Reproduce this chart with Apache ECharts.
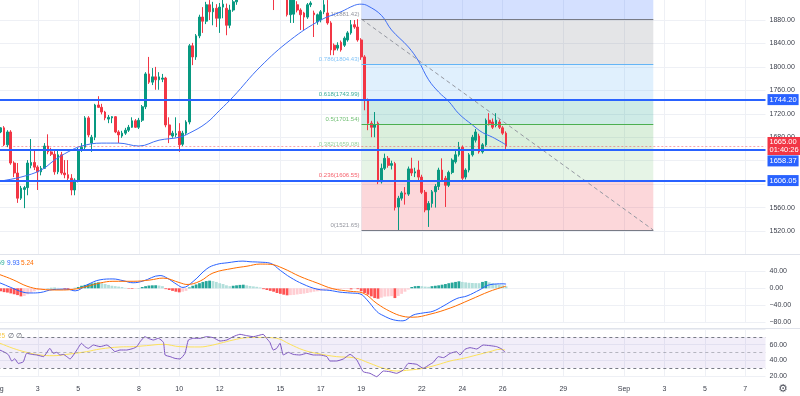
<!DOCTYPE html>
<html><head><meta charset="utf-8">
<script src="https://cdn.jsdelivr.net/npm/echarts@6/dist/echarts.min.js"></script>
<style>html,body{margin:0;padding:0;background:#fff}#c{width:800px;height:396px}</style>
</head><body><div id="c"></div>
<script>
// ---- x axis: 4h slots starting Aug 1 00:00 ----
const slotCount = 229;
const tickSlots = [0,12,24,42,54,66,84,96,108,126,138,150,168,186,198,210,222];
const tickLabels = ['Aug','3','5','8','10','12','15','17','19','22','24','26','29','Sep','3','5','7'];

// ---- candles [open, close, low, high] ----
const candles = [
[1693,1689,1686,1697],[1689,1696,1687,1697],[1696,1667,1665,1699],[1667,1689,1663,1692],[1689,1636,1633,1692],
[1636,1619,1612,1639],[1619,1576,1568,1636],[1576,1593,1573,1597],[1591,1594,1559,1597],[1594,1636,1581,1641],
[1632,1637,1627,1677],[1637,1629,1624,1658],[1629,1621,1590,1632],[1621,1627,1615,1631],[1627,1665,1626,1670],
[1665,1655,1651,1685],[1655,1651,1648,1662],[1651,1621,1616,1658],[1621,1650,1617,1658],[1650,1619,1616,1655],
[1619,1616,1610,1641],[1616,1610,1604,1641],[1610,1590,1581,1617],[1590,1607,1581,1610],[1607,1658,1603,1662],
[1658,1663,1655,1670],[1663,1713,1658,1716],[1713,1684,1680,1716],[1670,1680,1655,1684],[1680,1735,1675,1737],
[1735,1731,1730,1750],[1731,1723,1719,1737],[1723,1713,1709,1725],[1711,1714,1704,1718],[1713,1715,1704,1716],
[1715,1689,1687,1716],[1689,1684,1670,1692],[1682,1687,1679,1691],[1687,1692,1684,1696],[1692,1697,1689,1701],
[1697,1708,1696,1714],[1708,1697,1696,1711],[1697,1709,1694,1713],[1709,1732,1706,1735],[1732,1788,1728,1791],
[1788,1774,1771,1817],[1774,1783,1769,1798],[1783,1778,1761,1800],[1778,1783,1761,1791],[1779,1781,1774,1788],
[1781,1701,1697,1783],[1701,1684,1670,1714],[1682,1687,1679,1691],[1684,1686,1680,1714],[1690,1667,1655,1704],
[1668,1687,1665,1691],[1687,1706,1684,1709],[1706,1836,1702,1839],[1836,1817,1803,1841],[1817,1853,1812,1856],
[1853,1885,1849,1889],[1885,1878,1858,1902],[1878,1906,1873,1911],[1906,1894,1880,1914],[1894,1900,1871,1911],
[1900,1883,1868,1907],[1883,1902,1858,1909],[1902,1907,1883,1918],[1900,1871,1854,1908],[1871,1897,1866,1906],
[1897,1911,1894,1922],[1911,1925,1906,1930],[1925,1932,1918,1938],[1932,1928,1922,1940],[1928,1938,1924,1945],
[1938,1935,1928,1944],[1935,1942,1930,1950],[1942,1936,1930,1948],[1936,1930,1922,1940],[1930,1934,1924,1939],
[1934,1926,1920,1936],[1926,1929,1918,1933],[1929,1918,1897,1931],[1918,1922,1915,1926],[1922,1925,1916,1930],
[1925,1920,1915,1929],[1920,1889,1886,1924],[1889,1914,1875,1918],[1890,1916,1875,1920],[1906,1897,1893,1912],
[1897,1889,1863,1900],[1892,1885,1863,1894],[1885,1906,1882,1909],[1906,1909,1902,1912],[1892,1889,1851,1896],
[1877,1889,1872,1891],[1880,1894,1876,1897],[1894,1906,1890,1914],[1892,1875,1872,1914],[1875,1829,1820,1878],
[1837,1829,1820,1840],[1832,1837,1828,1842],[1842,1829,1826,1845],[1837,1849,1834,1852],[1846,1858,1843,1861],
[1858,1872,1855,1880],[1872,1868,1865,1880],[1868,1846,1843,1881.42],[1846,1817,1812,1849],[1817,1744,1726,1820],
[1744,1704,1692,1746],[1704,1697,1680,1708],[1697,1701,1680,1723],[1704,1604,1600,1707],[1604,1627,1601,1635],
[1627,1644,1624,1652],[1644,1632,1628,1648],[1632,1635,1625,1640],[1635,1560,1555,1638],[1561,1576,1521.65,1580],
[1576,1585,1572,1588],[1585,1583,1565,1595],[1583,1626,1580,1630],[1626,1619,1614,1645],[1619,1621,1612,1628],
[1624,1612,1606,1640],[1612,1586,1583,1616],[1586,1556,1552,1590],[1556,1567,1527,1571],[1567,1587,1560,1590],
[1587,1596,1560,1600],[1596,1624,1590,1628],[1624,1607,1604,1644],[1610,1598,1561,1614],[1598,1620,1595,1623],
[1620,1641,1617,1644],[1638,1650,1635,1660],[1650,1663,1647,1672],[1663,1610,1606,1666],[1612,1624,1608,1627],
[1624,1650,1620,1653],[1650,1680,1647,1684],[1675,1689,1671,1694],[1682,1655,1652,1686],[1655,1667,1652,1670],
[1667,1709,1664,1712],[1709,1704,1700,1721],[1706,1697,1694,1712],[1700,1709,1697,1721],[1706,1697,1694,1710],
[1696,1687,1684,1699],[1687,1665,1660,1690]
];

// ---- moving average on price [slot, value] ----
const maLine = [[0,1603],[1,1605],[7,1612],[13,1624],[17,1641],[21,1655],[25,1665],[31,1670],[36,1670],[42,1665],[48,1675],
[54,1680],[57,1687],[62,1704],[66,1726],[70,1749],[78,1800],[87,1846],[96,1880],[102,1894],[106,1905],[108,1907],
[110,1904],[114,1888],[117,1863],[122,1834],[125,1810],[128,1778],[131,1757],[134,1741],[137,1720],[141,1701],
[144,1688],[147,1680],[151,1667]];

// ---- horizontal levels ----
const hLevels = [1744.20, 1658.37, 1606.05];
const lastPrice = 1665.00;
const countdown = '01:40:26';

// ---- fibonacci retracement ----
const fibRatios = ['1','0.786','0.618','0.5','0.382','0.236','0'];
const fibValues = [1881.42, 1804.43, 1743.99, 1701.54, 1659.08, 1606.55, 1521.65];
const fibColors = ['#787b86','#64b5f6','#089981','#4caf50','#81c784','#f23645','#787b86'];
const fibFills = ['rgba(120,123,134,0.2)','rgba(100,181,246,0.2)','rgba(8,153,129,0.2)','rgba(76,175,80,0.2)','rgba(129,199,132,0.2)','rgba(242,54,69,0.2)'];
const fibSpan = [108.1, 194.7];

// ---- MACD ----
const macdHist = [-6,-7,-9,-10,-12,-14,-16,-19,-18,-14,-10,-7,-4,-2,-1,0.5,1,1.2,1,0.5,
-2,-3.5,-2.5,1,3,6,8,10,11.5,13,14,12,10,8,6,5,4,3,1,-1,
-1.5,-1,0.5,3,5,6.5,7,7.2,6.5,5,-2,-4,-6,-8,-9.5,-8,-6,2,6,9,
12,15,17,18,17,15,12,10,7,5,6,7,8,8.5,7,5.5,4.5,3.5,2,-2,
-4,-6,-8,-11,-13,-15,-16.5,-16,-15.5,-14.5,-13.5,-12.5,-11,-9.5,-8,-7,-6,-5,-4,-3,
-2.5,-2,-1.5,-1.5,-1.5,-2.5,-1,-2,-7,-11,-15,-19,-23,-24.5,-22,-19.5,-19,-18.5,-23,-18,
-13,-8,-3,3,5,5.5,5,4,3.5,5,6,7,8.5,10,12,13.5,15,16.5,15,14,
13,12.5,12.2,12,15,17,14,12,10,8.5,7,4.69];
const macdLine = [[0,14],[0.8,12.6],[4,2],[7.6,-9],[10,-11],[12.7,-10],[16.5,-3],[20.7,-2],[23.1,-6],[26.6,8],[30.5,20],
[34.3,22],[37.3,18],[40.3,13],[43.2,17],[48.3,30],[50.4,24],[53.3,9],[55.1,2],[58.1,16],[62.2,46],[65,56],[68.2,60],
[72.9,64],[75,62.5],[78,61.5],[81,59],[84,42],[86.9,26],[90.7,10],[94.9,-2],[98.7,-5],[101.7,-9],[104.7,-11],
[107.6,-13],[109.7,-27],[112.7,-55],[114.5,-64],[117.5,-74],[120.4,-76.5],[123.4,-63],[126.4,-58],[129.3,-54],
[132.3,-42],[136.4,-24],[139.4,-18],[143.3,-3],[146.2,8.5],[150.1,10.5],[151,9.93]];
const signalLine = [[0,34],[0.8,32],[4.7,20],[8.8,5],[12.7,-2],[18.6,-4],[22.5,-2.5],[26.6,4.5],[30.5,12.5],[34.3,16.5],
[40.3,16.5],[45.3,19.5],[49.2,24],[54.2,13],[56.3,9],[60.2,17],[64,36],[70,47],[74.1,52],[78,57],[81,56.5],
[84.8,47],[89.8,28],[94.9,12.5],[99.6,-1],[104.7,-7],[108.5,-11],[112.7,-36],[116.5,-54],[120.4,-66],[123.4,-68],
[128.4,-61],[134.4,-46.5],[140.3,-27],[146.2,-7],[151,5.24]];

// ---- RSI ----
const rsiLine = [[0,54],[0.8,53],[2.3,50],[3.3,47],[4.3,39],[5.2,42],[6.2,36],[7.7,38],[8.7,49],[10.2,47.6],[11.7,46.8],
[13.7,44.7],[15.6,55.3],[16.6,48.9],[17.6,50.2],[18.6,46.8],[19.6,47.6],[20.6,44.7],[21.6,41.7],[22.6,46.8],[23.6,53.2],
[25,61.8],[26,57.5],[27,55.3],[28.5,59.6],[30.5,57.5],[32.5,59.6],[33.9,55.3],[34.9,51.1],[36.4,53.2],[38.4,53.2],
[40.4,55.3],[41.4,57.5],[42.4,63.9],[43.8,70.3],[44.8,68.2],[46.3,66],[47.8,68.2],[49.3,63],[49.8,46.8],[51.3,44.7],
[52.7,42.5],[54.2,41.7],[55.7,48.9],[56.7,66],[58.2,68.2],[60.2,68.2],[62.1,70.3],[64.1,69],[66.1,64.7],[68.1,66],
[70,70.3],[72,73.3],[74,71.6],[76,70.3],[78.9,73.3],[79.9,68.2],[80.9,63],[81.9,53.2],[82.9,55.3],[83.9,61.8],
[84.9,46.8],[86.4,50.2],[87.8,47.6],[89.8,46.8],[91.8,48.9],[93.8,46.8],[95.8,46.8],[97.8,44.7],[98.7,39.1],
[100.7,39.1],[102.7,41.7],[104.7,47.6],[106.7,40.4],[108.6,25.4],[110.6,23.3],[112.6,19],[114.6,26.3],[116.5,25.4],
[118.5,23.3],[120.5,27.6],[122,36.1],[124.5,34.8],[126.4,29.7],[128.4,34.8],[129.4,37.4],[130.9,44.7],[132.4,43.4],
[134.4,48.9],[136.3,51.1],[137.3,46.8],[138.8,54.1],[140.3,56.2],[142.3,54.5],[144.2,59.6],[146.2,58.8],[148.2,57.5],
[149.7,54.5],[150.7,50.2]];
const rsiMa = [[0,63],[0.8,61.8],[4.7,55.3],[8.7,50.2],[12.7,46.8],[16.6,45.9],[20.6,47.6],[26.5,51.1],[30.5,54.5],[36.4,57.1],
[40.4,57.5],[44.3,58.8],[49.3,60.5],[54.2,57.5],[60.2,57.1],[63.1,58.8],[66.1,61.8],[70,66],[74,69],[78,69.4],
[82.9,68.2],[86.9,60.5],[90.8,53.2],[94.8,48.9],[100.7,44.7],[105.7,43.4],[110.6,36.1],[114.6,29.7],[118.5,26.3],
[122.5,27.6],[126.4,29.7],[130.4,34],[134.4,39.1],[138.3,42.5],[142.3,46.8],[146.2,51.1],[149.2,54.1],[150.7,53.2]];
const rsiBands = [70, 50, 30];

// ---------------- chart ----------------
const FONT = 'Liberation Sans, Arial, sans-serif';
const AXC = '#3a3e4a';
const GRIDC = '#eef0f5';
const cats = Array.from({length: slotCount}, (_, i) => String(i));
const isTick = (i) => tickSlots.indexOf(i) >= 0;

const gridBase = {left: -2.67, right: 34.5, containLabel: false, outerBoundsMode: 'none'};
const grids = [
  Object.assign({}, gridBase, {top: -3.44, height: 257.9}),
  Object.assign({}, gridBase, {top: 271.3, height: 51}),
  Object.assign({}, gridBase, {top: 329.1, height: 46.8})
];
const catAxis = (g, showLabel) => ({
  type: 'category', gridIndex: g, data: cats, boundaryGap: false,
  axisLine: {show: false}, axisTick: {show: false},
  axisLabel: {show: showLabel, interval: (i) => isTick(i), margin: 10, fontSize: 7, color: AXC, fontFamily: FONT,
    formatter: (v, i) => { const k = tickSlots.indexOf(Number(v)); return k >= 0 ? tickLabels[k] : ''; }},
  splitLine: {show: true, interval: (i) => isTick(i), lineStyle: {color: GRIDC, width: 1}}
});
const valAxis = (g) => ({type: 'value', gridIndex: g, min: 0, max: slotCount - 1, show: false});
const fmt2 = (v) => (v < 0 ? '\u2212' : '') + Math.abs(v).toFixed(2);
const yCommon = {
  position: 'right', axisLine: {show: false}, axisTick: {show: false},
  splitLine: {lineStyle: {color: GRIDC, width: 1}},
  axisLabel: {fontSize: 7, color: AXC, fontFamily: FONT, margin: 4, formatter: fmt2}
};

const histData = macdHist.map((v, i) => {
  const p = i > 0 ? macdHist[i - 1] : v;
  let col;
  if (v >= 0) col = v >= p ? '#26a69a' : '#b2dfdb';
  else col = v < p ? '#ff5252' : '#ffcdd2';
  return {value: v, itemStyle: {color: col}};
});

// fib areas and lines
const fibAreas = [[{coord: [fibSpan[0], 1920], itemStyle: {color: 'rgba(41,98,255,0.2)'}}, {coord: [fibSpan[1], fibValues[0]]}]];
for (let k = 0; k < fibValues.length - 1; k++) {
  fibAreas.push([{coord: [fibSpan[0], fibValues[k]], itemStyle: {color: fibFills[k]}}, {coord: [fibSpan[1], fibValues[k + 1]]}]);
}
const fibLines = fibValues.map((v, k) => [
  {coord: [fibSpan[0], v], lineStyle: {color: fibColors[k], width: 1, type: 'solid'}},
  {coord: [fibSpan[1], v]}
]);
const fibLabels = fibValues.map((v, k) => ({
  value: [fibSpan[0], v],
  label: {color: fibColors[k], formatter: fibRatios[k] + '(' + v.toFixed(2) + ')'}
}));

const levelLine = (v, offY) => ({
  yAxis: v,
  lineStyle: {color: '#2962ff', width: 2, type: 'solid'},
  label: {show: true, position: 'end', distance: 2, formatter: v.toFixed(2), color: '#fff',
    backgroundColor: '#2962ff', padding: [2, 2, 1, 2], fontSize: 7.5, fontFamily: FONT, offset: [0, offY]}
});

const option = {
  animation: false,
  backgroundColor: '#ffffff',
  grid: grids,
  xAxis: [catAxis(0, false), catAxis(1, false), catAxis(2, true), valAxis(0), valAxis(1), valAxis(2)],
  yAxis: [
    Object.assign({}, yCommon, {type: 'value', gridIndex: 0, min: 1480, max: 1920, interval: 40,
      axisLabel: Object.assign({}, yCommon.axisLabel, {showMinLabel: false, showMaxLabel: false})}),
    Object.assign({}, yCommon, {type: 'value', gridIndex: 1, min: -80, max: 40, interval: 40}),
    Object.assign({}, yCommon, {type: 'value', gridIndex: 2, min: 20, max: 80, interval: 20,
      axisLabel: Object.assign({}, yCommon.axisLabel, {showMaxLabel: false})})
  ],
  series: [
    { // fib trend line + areas + levels
      type: 'line', xAxisIndex: 3, yAxisIndex: 0, z: 1,
      data: [[fibSpan[0], fibValues[0]], [fibSpan[1], fibValues[fibValues.length - 1]]],
      showSymbol: false, lineStyle: {color: '#9598a1', width: 1, type: [4, 3]},
      markArea: {silent: true, data: fibAreas},
      markLine: {silent: true, symbol: ['none', 'none'], label: {show: false}, data: fibLines}
    },
    {
      type: 'scatter', xAxisIndex: 3, yAxisIndex: 0, z: 2, symbolSize: 0,
      data: fibLabels,
      label: {show: true, position: 'left', distance: 2, offset: [0, -5], fontSize: 6, fontFamily: FONT}
    },
    {
      type: 'candlestick', xAxisIndex: 0, yAxisIndex: 0, z: 3, barWidth: 2.2,
      data: candles,
      itemStyle: {color: '#089981', color0: '#f23645', borderColor: '#089981', borderColor0: '#f23645', borderWidth: 1},
      markLine: {
        silent: true, symbol: ['none', 'none'],
        data: [
          levelLine(hLevels[0], 0),
          levelLine(hLevels[1], 11),
          levelLine(hLevels[2], 0),
          {yAxis: lastPrice, lineStyle: {color: 'rgba(242,54,69,0.45)', width: 1, type: [2, 2]},
           label: {show: true, position: 'end', distance: 2, formatter: lastPrice.toFixed(2) + '\n' + countdown,
             color: '#fff', backgroundColor: '#f23645', padding: [2, 2, 1, 2], fontSize: 7.5, lineHeight: 7.5, fontFamily: FONT}}
        ]
      }
    },
    {
      type: 'line', xAxisIndex: 3, yAxisIndex: 0, z: 4, data: maLine, smooth: 0.4, showSymbol: false,
      lineStyle: {color: '#3f6ff5', width: 1}
    },
    { // MACD histogram
      type: 'bar', xAxisIndex: 1, yAxisIndex: 1, barWidth: 2.8, data: histData, z: 2
    },
    {
      type: 'line', xAxisIndex: 4, yAxisIndex: 1, data: macdLine, smooth: 0.4, showSymbol: false, clip: false, z: 3,
      lineStyle: {color: '#2962ff', width: 1}
    },
    {
      type: 'line', xAxisIndex: 4, yAxisIndex: 1, data: signalLine, smooth: 0.4, showSymbol: false, clip: false, z: 3,
      lineStyle: {color: '#ff6d00', width: 1}
    },
    { // RSI
      type: 'line', xAxisIndex: 5, yAxisIndex: 2, data: rsiLine, smooth: 0.15, showSymbol: false, clip: false, z: 3,
      lineStyle: {color: '#7e57c2', width: 1},
      markArea: {silent: true, itemStyle: {color: 'rgba(126,87,194,0.1)'}, data: [[{yAxis: rsiBands[2]}, {yAxis: rsiBands[0]}]]},
      markLine: {silent: true, symbol: ['none', 'none'], label: {show: false},
        data: rsiBands.map((v, k) => ({yAxis: v, lineStyle: {color: k === 1 ? 'rgba(120,123,134,0.5)' : '#787b86', width: 1, type: [3, 3]}}))}
    },
    {
      type: 'line', xAxisIndex: 5, yAxisIndex: 2, data: rsiMa, smooth: 0.4, showSymbol: false, clip: false, z: 2,
      lineStyle: {color: '#fde25a', width: 1}
    }
  ],
  graphic: [
    {type: 'line', shape: {x1: 0, y1: 254.5, x2: 800, y2: 254.5}, style: {stroke: '#e0e3eb', lineWidth: 1}, z: 10},
    {type: 'line', shape: {x1: 0, y1: 328.5, x2: 800, y2: 328.5}, style: {stroke: '#e0e3eb', lineWidth: 1}, z: 10},
    {type: 'text', x: 4.5, y: 263.5, z: 10, style: {text: '4.69', fill: '#22ab94', fontSize: 6.5, fontFamily: FONT, align: 'right', verticalAlign: 'middle'}},
    {type: 'text', x: 7, y: 263.5, z: 10, style: {text: '9.93', fill: '#2962ff', fontSize: 6.5, fontFamily: FONT, verticalAlign: 'middle'}},
    {type: 'text', x: 21, y: 263.5, z: 10, style: {text: '5.24', fill: '#ff6d00', fontSize: 6.5, fontFamily: FONT, verticalAlign: 'middle'}},
    {type: 'rect', shape: {x: 0, y: 332, width: 21, height: 8}, style: {fill: '#ffffff'}, z: 10},
    {type: 'text', x: 5, y: 336, z: 11, style: {text: '53.25', fill: '#f7c948', fontSize: 6.5, fontFamily: FONT, align: 'right', verticalAlign: 'middle'}},
    {type: 'text', x: 8, y: 336, z: 11, style: {text: '\u2205 \u2205', fill: '#555a66', fontSize: 6.5, fontFamily: FONT, verticalAlign: 'middle'}},
    {type: 'text', x: 783, y: 389, z: 10, style: {text: '\u2699', fill: '#50535e', fontSize: 11, fontFamily: 'DejaVu Sans', align: 'center', verticalAlign: 'middle'}}
  ]
};
const chart = echarts.init(document.getElementById('c'), null, {renderer: 'canvas'});
chart.setOption(option);
</script>
</body></html>
